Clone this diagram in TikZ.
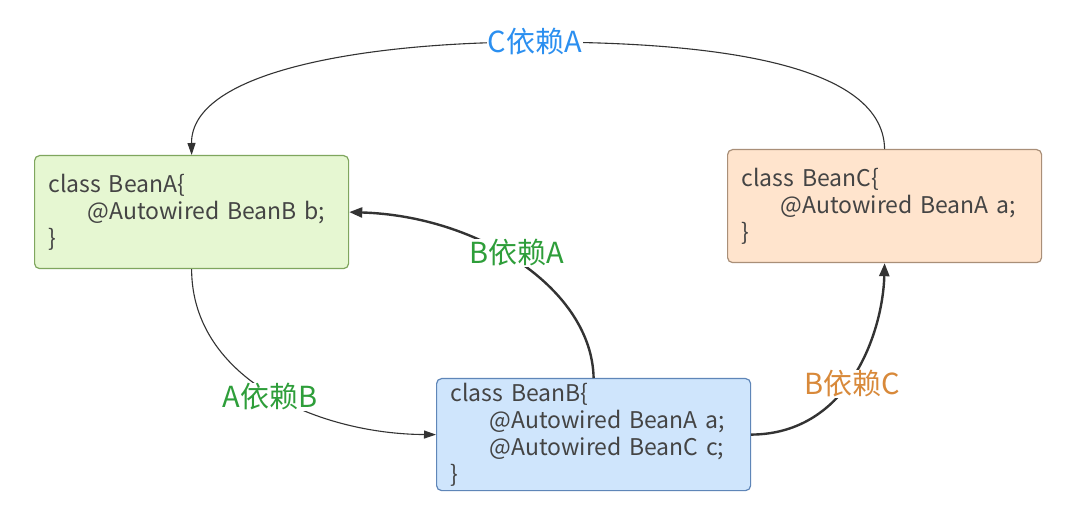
\documentclass[tikz,border=0pt]{standalone}
\usepackage{fontspec}
\setmainfont{Noto Sans CJK SC}
\usetikzlibrary{arrows.meta}
\definecolor{afill}{HTML}{E6F7D2}
\definecolor{aline}{HTML}{7FA65E}
\definecolor{bfill}{HTML}{CFE5FC}
\definecolor{bline}{HTML}{5F86B8}
\definecolor{cfill}{HTML}{FFE4CD}
\definecolor{cline}{HTML}{A98F78}
\definecolor{txt}{HTML}{444444}
\definecolor{lgreen}{HTML}{2E9E3A}
\definecolor{lblue}{HTML}{2B8FF0}
\definecolor{lorange}{HTML}{D8893A}
\definecolor{edge}{HTML}{333333}
\tikzset{
  beanbox/.style={draw=#1line, fill=#1fill, line width=1.2pt, rounded corners=5pt,
    minimum width=314pt, minimum height=113pt, text width=286pt, inner xsep=14pt,
    align=left, font=\fontsize{23}{27}\selectfont, text=txt, anchor=north west},
  lbl/.style={font=\fontsize{29}{30}\selectfont, fill=white, inner sep=1pt},
  thinedge/.style={draw=edge, line width=1.1pt, -{Triangle[length=12pt,width=8pt]}},
  thickedge/.style={draw=edge, line width=2.4pt, -{Triangle[length=13pt,width=10pt]}},
}
\newcommand{\ind}{\hspace*{39pt}}
\begin{document}
\begin{tikzpicture}[x=1pt,y=-1pt]
\useasboundingbox[fill=white] (0,0) rectangle (1090,518);
\node[beanbox=a] (A) at (34,155) {class BeanA\{\\\ind @Autowired BeanB b;\\\}};
\node[beanbox=c] (C) at (727,149) {class BeanC\{\\\ind @Autowired BeanA a;\\\}};
\node[beanbox=b, minimum height=112pt] (B) at (436,378) {class BeanB\{\\\ind @Autowired BeanA a;\\\ind @Autowired BeanC c;\\\}};
% C depends on A
\coordinate (ca) at (535,42);
\draw[thinedge] (C.north) .. controls (883,60) and (700,42) .. (ca) .. controls (370,42) and (191,70) .. (A.north);
\node[lbl, text=lblue] (lca) at (ca) {C依赖A};
% B depends on A
\draw[thickedge] (B.north) .. controls (592,290) and (480,216) .. (A.east);
\node[lbl, text=lgreen] (lba) at (517,253) {B依赖A};
% A depends on B
\draw[thinedge] (A.south) .. controls (192,380) and (320,434) .. (B.west);
\node[lbl, text=lgreen] (lab) at (270,397) {A依赖B};
% B depends on C
\draw[thickedge] (B.east) .. controls (850,434) and (883,330) .. (C.south);
\node[lbl, text=lorange] (lbc) at (852,384) {B依赖C};
\end{tikzpicture}
\end{document}
